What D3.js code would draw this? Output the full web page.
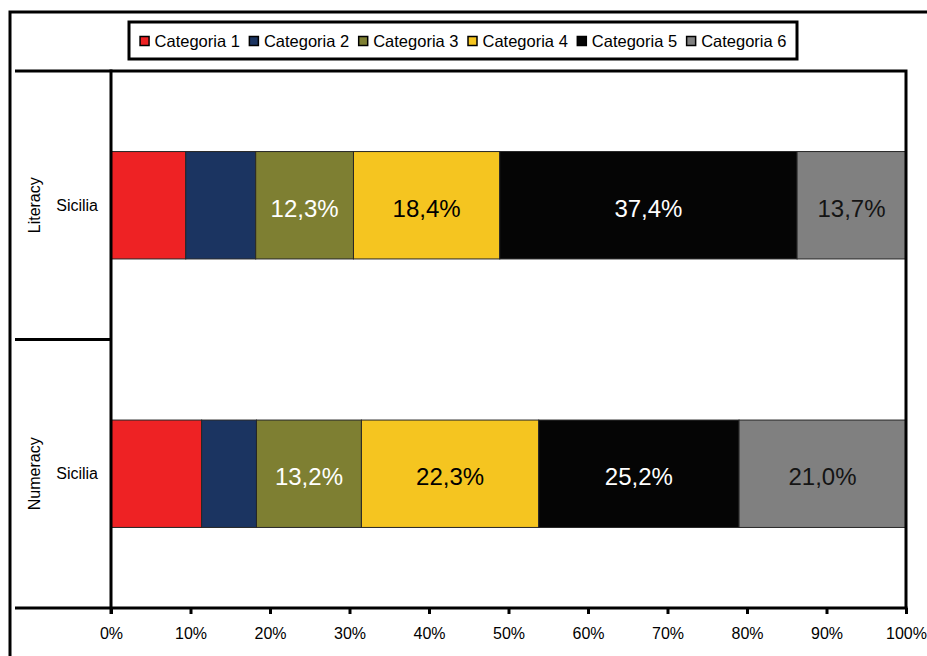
<!DOCTYPE html>
<html>
<head>
<meta charset="utf-8">
<script src="https://cdn.jsdelivr.net/npm/d3@7"></script>
<style>
  html, body { margin: 0; padding: 0; background: #fff; }
  svg { display: block; font-family: "Liberation Sans", Arial, sans-serif; }
</style>
</head>
<body>
<svg id="chart" width="927" height="656"></svg>
<script>
// Stacked 100% bars: Literacy / Numeracy for Sicilia
const groups = ["Literacy", "Numeracy"];
const rowLabels = ["Sicilia", "Sicilia"];
const categories = ["Categoria 1", "Categoria 2", "Categoria 3", "Categoria 4", "Categoria 5", "Categoria 6"];
const literacyValues = [9.4, 8.8, 12.3, 18.4, 37.4, 13.7];
const numeracyValues = [11.4, 6.9, 13.2, 22.3, 25.2, 21.0];
const xTicks = [0, 10, 20, 30, 40, 50, 60, 70, 80, 90, 100];

const colors = ["#EE2224", "#1B3461", "#7E7F32", "#F5C520", "#050505", "#808080"];
const labelColors = ["#fff", "#fff", "#fff", "#000", "#fff", "#141414"];

const svg = d3.select("#chart");
const W = 927, H = 656;
const plot = { left: 111, right: 906, top: 71, bottom: 608 };

const x = d3.scaleLinear().domain([0, 100]).range([plot.left, plot.right]);
const y = d3.scaleBand().domain(groups).range([plot.top, plot.bottom])
  .paddingInner(0.6).paddingOuter(0.3);
const color = d3.scaleOrdinal().domain(categories).range(colors);

// Outer frame (top and left edges)
svg.append("path")
  .attr("d", `M10,${H} L10,12 L${W},12`)
  .attr("fill", "none").attr("stroke", "#000").attr("stroke-width", 3);

// Stacked rows
const rows = groups.map((g, i) => {
  const vals = i === 0 ? literacyValues : numeracyValues;
  const row = { group: g };
  categories.forEach((c, j) => row[c] = vals[j]);
  return row;
});
const stacked = d3.stack().keys(categories)(rows);

const layer = svg.append("g").selectAll("g").data(stacked).join("g")
  .attr("fill", d => color(d.key));

layer.selectAll("rect").data(d => d).join("rect")
  .attr("x", d => x(d[0]))
  .attr("y", d => y(d.data.group))
  .attr("width", d => x(d[1]) - x(d[0]))
  .attr("height", y.bandwidth())
  .attr("stroke", "#262626").attr("stroke-width", 1);

// Value labels on wider segments
stacked.forEach((s, j) => {
  s.forEach(d => {
    const v = d[1] - d[0];
    if (v < 12) return;
    svg.append("text")
      .attr("x", (x(d[0]) + x(d[1])) / 2)
      .attr("y", y(d.data.group) + y.bandwidth() / 2)
      .attr("dy", "0.47em")
      .attr("text-anchor", "middle")
      .attr("font-size", 24)
      .attr("fill", labelColors[j])
      .text(d3.format(".1f")(v).replace(".", ",") + "%");
  });
});

// Plot frame: top and right borders
svg.append("path")
  .attr("d", `M15,${plot.top} L${plot.right},${plot.top} L${plot.right},${plot.bottom}`)
  .attr("fill", "none").attr("stroke", "#000").attr("stroke-width", 3);

// Separator between the two groups on the left
const midSep = (y("Literacy") + y.bandwidth() + y("Numeracy")) / 2;
svg.append("line")
  .attr("x1", 15).attr("x2", plot.left).attr("y1", midSep).attr("y2", midSep)
  .attr("stroke", "#000").attr("stroke-width", 3);

// Bottom axis
const xAxis = d3.axisBottom(x).tickValues(xTicks)
  .tickFormat(d => d + "%").tickSize(6).tickPadding(14);
const gx = svg.append("g").attr("transform", `translate(0,${plot.bottom})`).call(xAxis);
gx.select(".domain").remove();
gx.selectAll(".tick line").attr("stroke", "#000").attr("stroke-width", 3);
gx.selectAll(".tick text").attr("font-size", 16).attr("fill", "#000")
  .attr("font-family", "Liberation Sans, Arial, sans-serif");
svg.append("line")
  .attr("x1", 15).attr("x2", plot.right + 1.5).attr("y1", plot.bottom).attr("y2", plot.bottom)
  .attr("stroke", "#000").attr("stroke-width", 3);

// Left axis line
svg.append("line")
  .attr("x1", plot.left).attr("x2", plot.left).attr("y1", plot.top - 1.5).attr("y2", plot.bottom + 6)
  .attr("stroke", "#000").attr("stroke-width", 3);

// Row and group labels
groups.forEach((g, i) => {
  const cy = y(g) + y.bandwidth() / 2;
  svg.append("text")
    .attr("x", 98).attr("y", cy).attr("dy", "0.35em")
    .attr("text-anchor", "end").attr("font-size", 16).attr("fill", "#000")
    .text(rowLabels[i]);
  svg.append("text")
    .attr("transform", `translate(40,${cy}) rotate(-90)`)
    .attr("text-anchor", "middle").attr("font-size", 16).attr("fill", "#000")
    .text(g);
});

// Legend
const legend = { x: 129, y: 22, w: 668, h: 37 };
svg.append("rect")
  .attr("x", legend.x).attr("y", legend.y).attr("width", legend.w).attr("height", legend.h)
  .attr("fill", "#fff").attr("stroke", "#000").attr("stroke-width", 3);
const lg = svg.append("g");
let lx = 0;
categories.forEach((c, i) => {
  const item = lg.append("g").attr("transform", `translate(${lx},0)`);
  item.append("rect").attr("x", 0.5).attr("y", -10).attr("width", 9).attr("height", 9)
    .attr("fill", color(c)).attr("stroke", "#000").attr("stroke-width", 1.5);
  const t = item.append("text").attr("x", 15).attr("y", 0)
    .attr("font-size", 16.5).attr("fill", "#000").text(c);
  lx += 15 + t.node().getComputedTextLength() + 9;
});
const lgWidth = lx - 9;
lg.attr("transform", `translate(${legend.x + (legend.w - lgWidth) / 2},${legend.y + legend.h / 2 + 6})`);
</script>
</body>
</html>
